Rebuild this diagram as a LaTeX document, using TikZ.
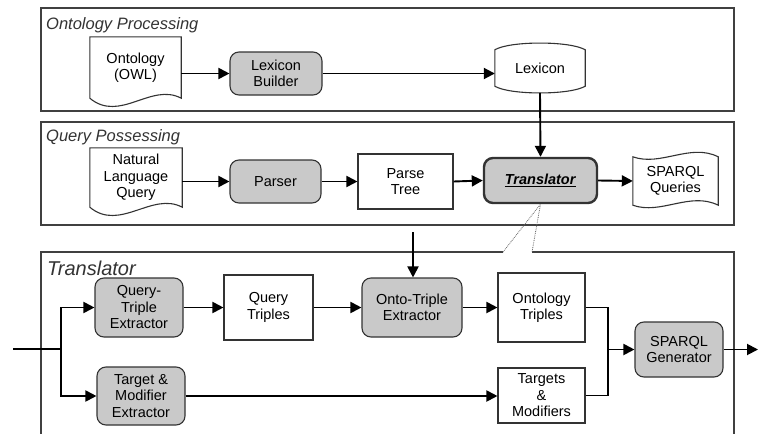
\documentclass[tikz,border=0pt]{standalone}
\usepackage{fontspec}
\setmainfont{Liberation Sans}
\usetikzlibrary{arrows.meta,calc}

\begin{document}
\begin{tikzpicture}[x=1pt,y=-1pt,
  every node/.style={font=\fontsize{14.5}{16.5}\selectfont, align=center, inner sep=0pt},
  panel/.style={draw=black!75, line width=1.3pt},
  paneltitle/.style={font=\fontsize{16.5}{18}\selectfont\itshape, text=black!80, anchor=base west},
  proc/.style={draw=black!80, line width=1.1pt, fill=gray!42, rounded corners=9pt},
  plainbox/.style={draw=black!80, line width=1.1pt, fill=white},
  shapeline/.style={draw=black!80, line width=1.1pt},
  conn/.style={line width=1.9pt, draw=black},
  flow/.style={conn, -{Triangle[length=11pt,width=11pt]}},
  callout/.style={densely dotted, line width=0.8pt, draw=black!60},
]
\fill[white] (0,0) rectangle (758,434);
\useasboundingbox (0,0) rectangle (758,434);

% ---------- panels ----------
\draw[panel] (41,8) rectangle (734,111);
\node[paneltitle] (t1) at (46,29) {Ontology Processing};
\draw[panel] (41,122) rectangle (734,225);
\node[paneltitle] (t2) at (46,141) {Query Possessing};
\coordinate (c1) at (503,252);
\coordinate (c2) at (532,252);
\draw[panel] (c1) -- (41,252) -- (41,434);
\draw[panel] (c2) -- (734,252) -- (734,434);
\node[paneltitle, font=\fontsize{20}{22}\selectfont\itshape] (t3) at (47,275) {Translator};

% ---------- ontology processing ----------
\node[minimum width=91, minimum height=61] (owl) at (135.5,67.5) {Ontology\\(OWL)};
\draw[shapeline] (owl.north west) -- (owl.north east) -- (owl.south east)
  .. controls +(-30,-16) and +(30,25) .. (owl.south west) -- cycle;
\node[proc, minimum width=92, minimum height=43] (lb) at (276,73.5) {Lexicon\\Builder};
\node[minimum width=90, minimum height=36] (lex) at (540,68) {Lexicon};
\draw[shapeline] (lex.north west) .. controls +(15,-9) and +(-15,-9) .. (lex.north east)
  -- (lex.south east) .. controls +(-15,9) and +(15,9) .. (lex.south west) -- cycle;

\draw[flow] (owl.east |- lb) -- (lb.west);
\draw[flow] (lb.east) -- (lex.west |- lb);

% ---------- query processing ----------
\node[minimum width=92, minimum height=59] (nlq) at (136,177.5) {Natural\\Language\\Query};
\draw[shapeline] (nlq.north west) -- (nlq.north east) -- (nlq.south east)
  .. controls +(-30,-16) and +(30,25) .. (nlq.south west) -- cycle;
\node[proc, minimum width=91, minimum height=43] (parser) at (275.5,181.5) {Parser};
\node[plainbox, minimum width=95, minimum height=55] (ptree) at (405.5,181.5) {Parse\\Tree};
\node[proc, line width=2.4pt, minimum width=113, minimum height=45] (tr) at (540.5,180.5)
  {\underline{\textbf{\textit{Translator}}}};
\node[minimum width=85, minimum height=48] (sq) at (675.5,181) {SPARQL\\Queries};
\draw[shapeline] (sq.north west) .. controls +(28,10) and +(-28,-14) .. (sq.north east)
  -- (sq.south east) .. controls +(-28,-14) and +(28,10) .. (sq.south west) -- cycle;

\draw[flow] (nlq.east |- parser) -- (parser.west);
\draw[flow] (parser.east) -- (ptree.west);
\draw[flow] (ptree.east) -- (tr.west);
\draw[flow] (tr.east) -- (sq.west);
\draw[flow] (lex.south) ++(0,6.75) -- (tr.north);

% zoom-out callout from the Translator step
\draw[callout] (c1) -- (tr.south) -- (c2);

% ---------- translator ----------
\node[proc, minimum width=88, minimum height=59] (qte) at (139,307.5) {Query-\\Triple\\Extractor};
\node[plainbox, minimum width=89, minimum height=65] (qt) at (268.5,307.5) {Query\\Triples};
\node[proc, minimum width=100, minimum height=59] (ote) at (412,307.5) {Onto-Triple\\Extractor};
\node[plainbox, minimum width=87, minimum height=69] (ontt) at (541.5,307.5) {Ontology\\Triples};
\node[plainbox, minimum width=87, minimum height=55] (tm) at (541.5,395.5) {Targets\\\&\\Modifiers};
\node[proc, minimum width=88, minimum height=55] (gen) at (679,349.5) {SPARQL\\Generator};
\node[proc, minimum width=88, minimum height=58] (tme) at (141,396) {Target \&\\Modifier\\Extractor};

\coordinate (in) at (13,349);
\coordinate (split) at (61,349);
\coordinate (merge) at (608,349.5);
\coordinate (out) at (758,349.5);
\coordinate (ontin) at (413,232);

\draw[conn] (in) -- (split);
\draw[flow] (split) |- (qte.west);
\draw[flow] (split) |- (tme.west);
\draw[flow] (qte.east) -- (qt.west);
\draw[flow] (qt.east) -- (ote.west);
\draw[flow] (ote.east) -- (ontt.west);
\draw[flow] (ontin) -- (ontin |- ote.north);
\draw[flow] (tme.east) -- (tm.west |- tme);
\draw[conn] (ontt.east) -| (merge);
\draw[conn] (tm.east) -| (merge);
\draw[flow] (merge) -- (gen.west);
\draw[flow] (gen.east) -- (out);
\end{tikzpicture}
\end{document}
